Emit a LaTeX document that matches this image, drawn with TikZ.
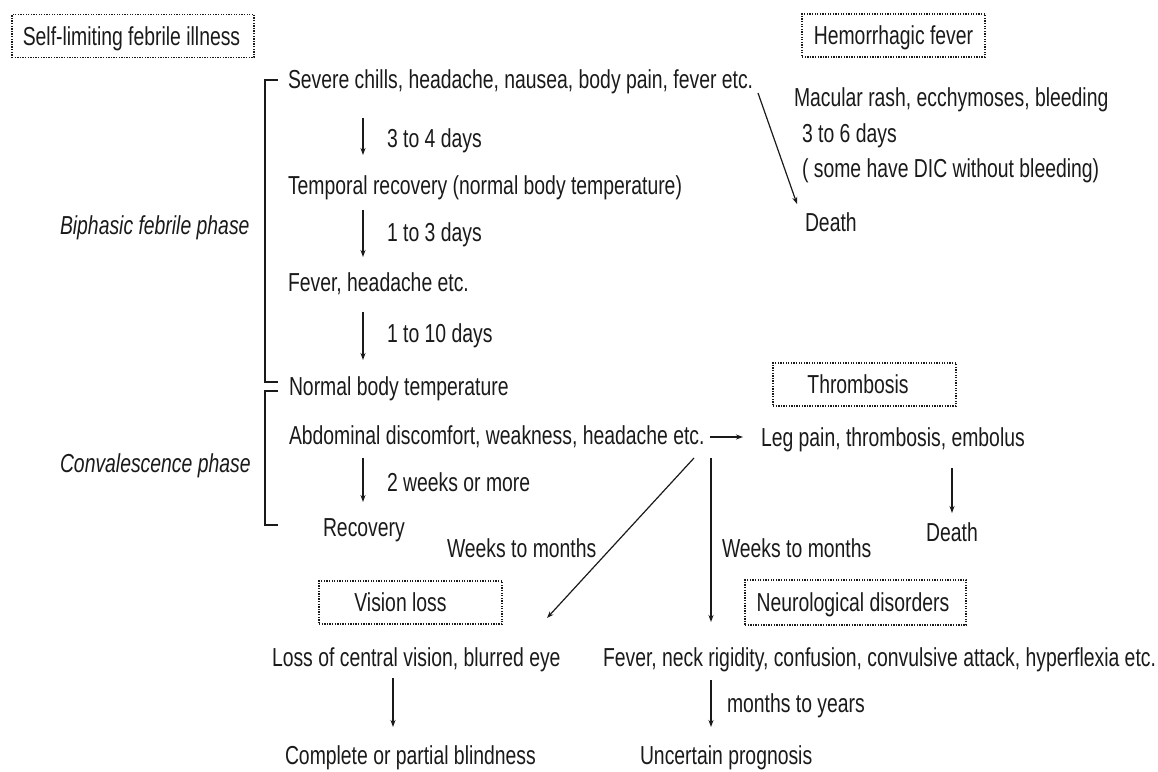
\documentclass[tikz,border=0pt]{standalone}
\usepackage{fontspec}
\setmainfont[FakeStretch=0.745]{Liberation Sans}
\usetikzlibrary{arrows.meta}
\definecolor{ink}{HTML}{1A1A1A}
\tikzset{
  txt/.style={anchor=west,inner sep=0pt,outer sep=0pt,text height=18.6pt,text depth=0pt,font=\fontsize{26}{28}\selectfont,text=ink},
  itxt/.style={txt,font=\fontsize{26}{28}\selectfont\itshape},
  dbox/.style={draw=ink,line width=1.2pt,dash pattern=on 1.3pt off 1.3pt,inner sep=0pt,text height=18.6pt,text depth=0pt,font=\fontsize{26}{28}\selectfont,text=ink,anchor=center},
  arr/.style={draw=ink,line width=1.2pt,-{Stealth[length=7pt,width=5pt]}},
  brk/.style={draw=ink,line width=1.3pt}
}
\begin{document}
\begin{tikzpicture}[x=1pt,y=-1pt]
\useasboundingbox (0,0) rectangle (1158,771);
% boxes
\node[dbox,minimum width=242pt,minimum height=43pt] (self) at (133,36) {\hspace*{-3pt}Self-limiting febrile illness};
\node[dbox,minimum width=183pt,minimum height=43pt] (hem) at (893.5,35.5) {Hemorrhagic fever};
\node[dbox,minimum width=183pt,minimum height=43pt] (thr) at (864.5,384.5) {\hspace*{-13pt}Thrombosis};
\node[dbox,minimum width=183pt,minimum height=43pt] (vis) at (410.5,602.5) {\hspace*{-20pt}Vision loss};
\node[dbox,minimum width=221pt,minimum height=45pt] (neu) at (855.5,602.5) {\hspace*{-5pt}Neurological disorders};
% left column
\node[itxt] (biph) at (60,225) {Biphasic febrile phase};
\node[itxt] (conv) at (60,463) {Convalescence phase};
\node[txt] (severe) at (288,79) {Severe chills, headache, nausea, body pain, fever etc.};
\node[txt] (temporal) at (288,185) {Temporal recovery (normal body temperature)};
\node[txt] (fever1) at (288,282) {Fever, headache etc.};
\node[txt] (normal) at (289,386) {Normal body temperature};
\node[txt] (abd) at (289,435) {Abdominal discomfort, weakness, headache etc.};
\node[txt] (recov) at (323,527) {Recovery};
\node[txt] (d34) at (387,138) {3 to 4 days};
\node[txt] (d13) at (387,232) {1 to 3 days};
\node[txt] (d110) at (387,333) {1 to 10 days};
\node[txt] (w2) at (387,482) {2 weeks or more};
% hemorrhagic
\node[txt] (mac) at (794,97) {Macular rash, ecchymoses, bleeding};
\node[txt] (d36) at (802,133) {3 to 6 days};
\node[txt] (dic) at (802,168) {( some have DIC without bleeding)};
\node[txt] (death1) at (805,222) {Death};
% thrombosis
\node[txt] (leg) at (761,437) {Leg pain, thrombosis, embolus};
\node[txt,anchor=center] (death2) at (952,532) {Death};
% lower
\node[txt] (wtm1) at (447,548) {Weeks to months};
\node[txt] (wtm2) at (722,548) {Weeks to months};
\node[txt] (loss) at (272,657) {Loss of central vision, blurred eye};
\node[txt] (fneck) at (603,657) {Fever, neck rigidity, confusion, convulsive attack, hyperflexia etc.};
\node[txt] (mty) at (727,703) {months to years};
\node[txt] (blind) at (285,755) {Complete or partial blindness};
\node[txt] (unc) at (640,755) {Uncertain prognosis};
% brackets
\coordinate (b1a) at (278,80); \coordinate (b1b) at (265,80);
\coordinate (b1c) at (265,382); \coordinate (b1d) at (278,382);
\coordinate (b2a) at (278,391); \coordinate (b2b) at (265,391);
\coordinate (b2c) at (265,525); \coordinate (b2d) at (278,525);
\draw[brk] (b1a) -- (b1b) -- (b1c) -- (b1d);
\draw[brk] (b2a) -- (b2b) -- (b2c) -- (b2d);
% arrows
\draw[arr] ([xshift=75pt,yshift=-39pt]severe.west) -- ([xshift=75pt,yshift=30pt]temporal.west);
\draw[arr] ([xshift=75pt,yshift=-25pt]temporal.west) -- ([xshift=75pt,yshift=25pt]fever1.west);
\draw[arr] ([xshift=75pt,yshift=-30pt]fever1.west) -- ([xshift=74pt,yshift=26pt]normal.west);
\draw[arr] ([xshift=74pt,yshift=-23pt]abd.west) -- ([xshift=40pt,yshift=25pt]recov.west);
\draw[arr] ([xshift=470pt,yshift=-14pt]severe.west) -- ([xshift=-8pt,yshift=18pt]death1.west);
\draw[arr] ([xshift=421pt,yshift=-2pt]abd.west) -- ([xshift=-18pt]leg.west);
\draw[arr] ([xshift=191pt,yshift=-31pt]leg.west) -- ([yshift=19pt]death2.center);
\draw[arr] ([xshift=405pt,yshift=-23pt]abd.west) -- ([xshift=275pt,yshift=39pt]loss.west);
\draw[arr] ([xshift=422pt,yshift=-23pt]abd.west) -- ([xshift=108pt,yshift=35pt]fneck.west);
\draw[arr] ([xshift=121pt,yshift=-21pt]loss.west) -- ([xshift=108pt,yshift=28pt]blind.west);
\draw[arr] ([xshift=108pt,yshift=-23pt]fneck.west) -- ([xshift=71pt,yshift=28pt]unc.west);
\end{tikzpicture}
\end{document}
